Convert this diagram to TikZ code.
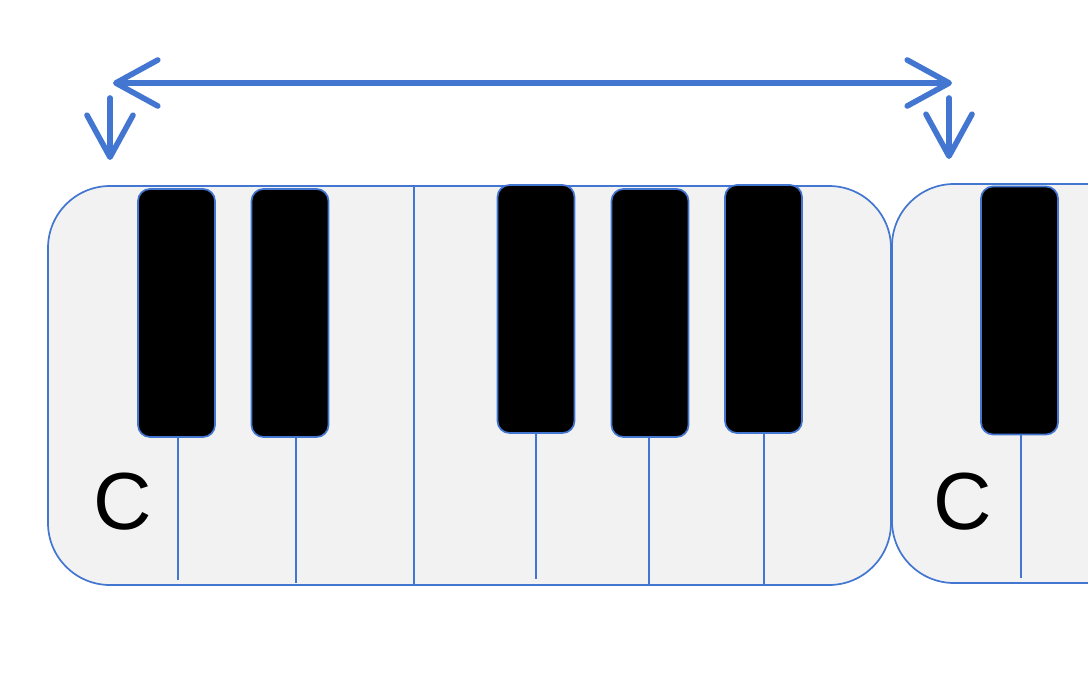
\documentclass[tikz,border=0pt]{standalone}
\usepackage{fontspec}
\setmainfont{Liberation Sans}
\usetikzlibrary{arrows.meta}
\definecolor{kblue}{RGB}{66,118,208}
\definecolor{kwhite}{RGB}{242,242,242}
\tikzset{
  octave/.style={draw=kblue, line width=1.7pt, fill=kwhite, rounded corners=62pt,
    minimum width=843pt, minimum height=399pt, inner sep=0pt},
  blackkey/.style={draw=kblue, line width=1.7pt, fill=black, rounded corners=12pt,
    minimum width=77pt, minimum height=248pt, inner sep=0pt},
  divider/.style={draw=kblue, line width=1.7pt},
  barb/.tip={Straight Barb[length=42pt,width=46pt,round]},
  bigarrow/.style={draw=kblue, line width=5.6pt, line cap=round, arrows={-barb}},
  notelabel/.style={font=\fontsize{81pt}{81pt}\selectfont, anchor=base, inner sep=0pt}
}
\begin{document}
\begin{tikzpicture}[x=1pt,y=-1pt]
\useasboundingbox (0,0) rectangle (1088,696);
\clip (0,0) rectangle (1088,696);
% white key blocks (octaves)
\node[octave] (oct1) at (469.5,385.5) {};
\node[octave] (oct2) at (1313.5,383.5) {};
% dividers between white keys
\coordinate (dEtop) at (414,186);
\coordinate (dEbot) at (414,585);
\coordinate (b1) at (178,580);
\coordinate (b2) at (296,583);
\coordinate (b3) at (536,579);
\coordinate (b4) at (649,585);
\coordinate (b5) at (764,585);
\coordinate (b6) at (1021,578);
\draw[divider] (dEtop) -- (dEbot);
% black keys
\node[blackkey] (k1) at (176.5,313) {};
\node[blackkey] (k2) at (290,313) {};
\node[blackkey] (k3) at (536,309) {};
\node[blackkey] (k4) at (650,313) {};
\node[blackkey] (k5) at (763.5,309) {};
\node[blackkey] (k6) at (1019.5,310.5) {};
\draw[divider] (k1.south -| b1) -- (b1);
\draw[divider] (k2.south -| b2) -- (b2);
\draw[divider] (k3.south -| b3) -- (b3);
\draw[divider] (k4.south -| b4) -- (b4);
\draw[divider] (k5.south -| b5) -- (b5);
\draw[divider] (k6.south -| b6) -- (b6);
% labels
\node[notelabel] (c1) at (123,529) {C};
\node[notelabel] (c2) at (963,529) {C};
% arrows
\coordinate (hl) at (113,83);
\coordinate (hr) at (952,83);
\coordinate (dl0) at (110,98);
\coordinate (dl1) at (110,160);
\coordinate (dr0) at (949,98);
\coordinate (dr1) at (949,159);
\draw[bigarrow, arrows={barb-barb}] (hl) -- (hr);
\draw[bigarrow] (dl0) -- (dl1);
\draw[bigarrow] (dr0) -- (dr1);
\end{tikzpicture}
\end{document}
